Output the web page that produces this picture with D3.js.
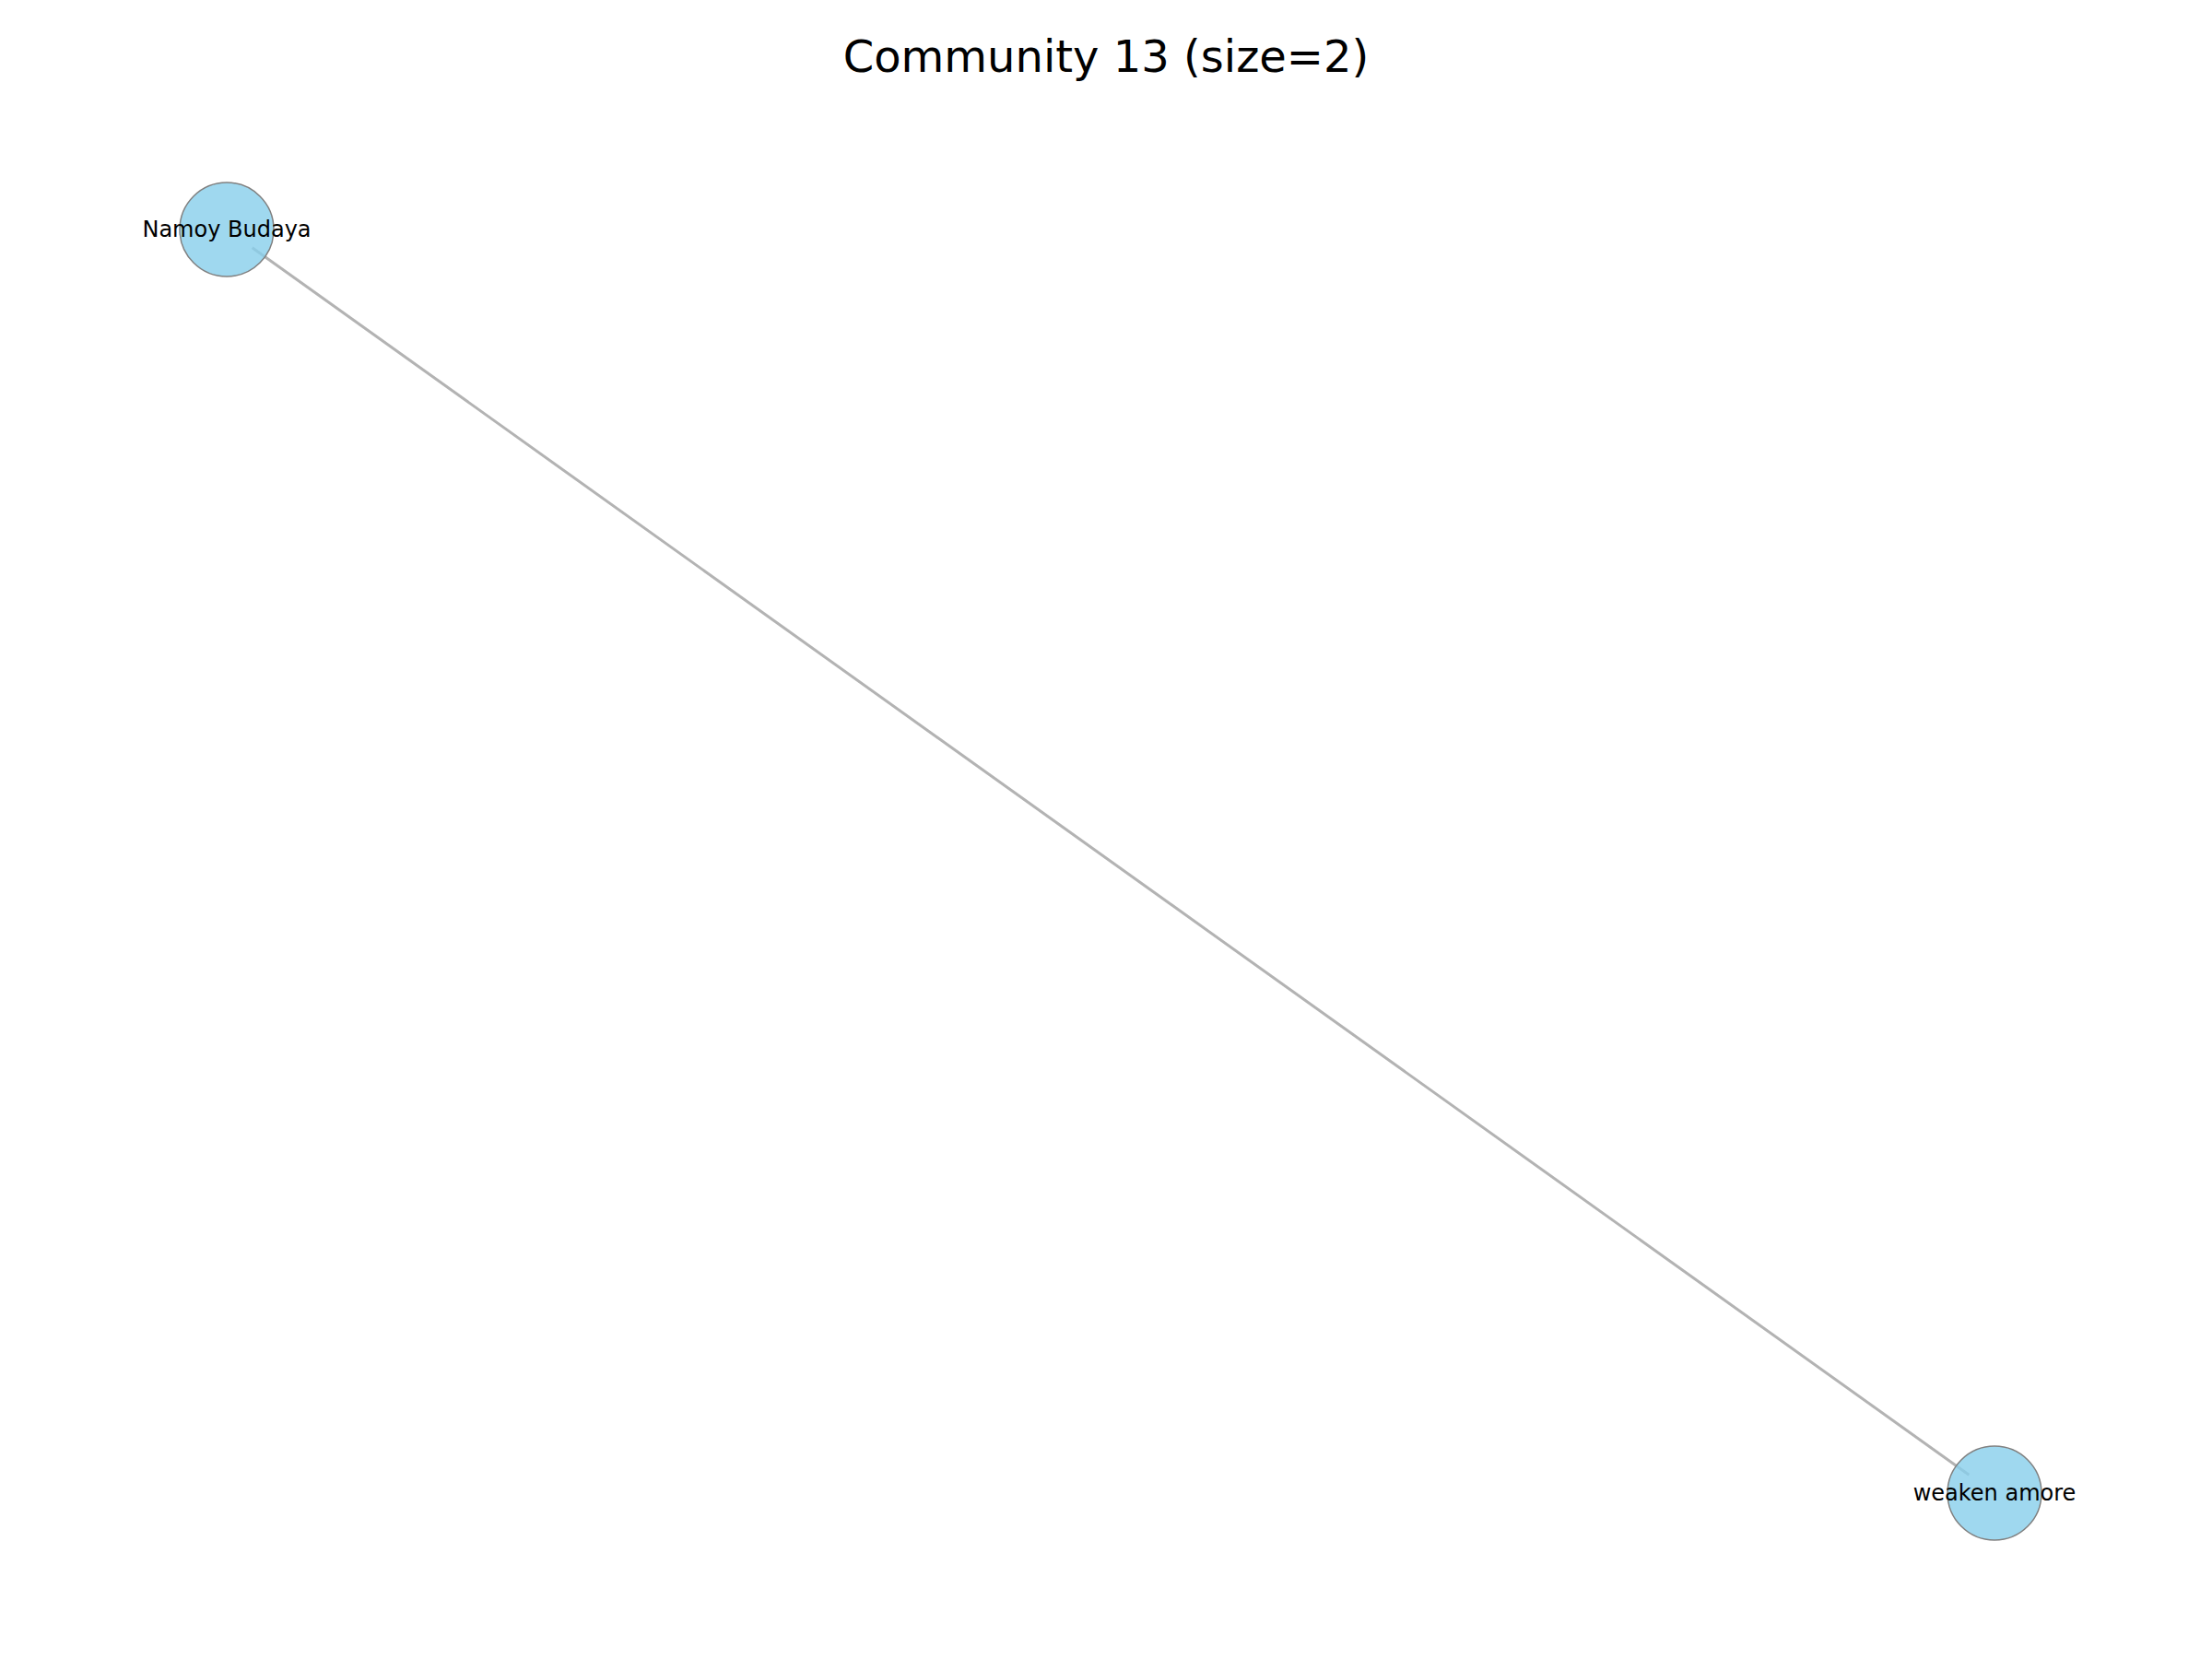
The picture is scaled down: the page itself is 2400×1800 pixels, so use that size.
<!DOCTYPE html>
<html>
<head>
<meta charset="utf-8">
<script src="https://cdn.jsdelivr.net/npm/d3@7"></script>
<style>
  body { margin: 0; background: #fff; }
  text { font-family: "DejaVu Sans", sans-serif; }
</style>
</head>
<body>
<script>
// node layout (spring layout units)
var nodeNames = ["Namoy Budaya", "weaken amore"];
var nodeX = [-1, 1];
var nodeY = [1, -1];
var edges = [[0, 1]];

var width = 2400, height = 1800;
var svg = d3.select("body").append("svg")
  .attr("width", width).attr("height", height);

var x = d3.scaleLinear().domain([-1, 1]).range([246, 2164]);
var y = d3.scaleLinear().domain([-1, 1]).range([1620, 249]);

svg.append("text")
  .attr("x", width / 2).attr("y", 78)
  .attr("text-anchor", "middle")
  .attr("font-size", 48)
  .text("Community 13 (size=2)");

var shrink = 34;
svg.selectAll("line.edge").data(edges).enter().append("line")
  .attr("class", "edge")
  .each(function (e) {
    var x1 = x(nodeX[e[0]]), y1 = y(nodeY[e[0]]);
    var x2 = x(nodeX[e[1]]), y2 = y(nodeY[e[1]]);
    var len = Math.hypot(x2 - x1, y2 - y1);
    var ux = (x2 - x1) / len, uy = (y2 - y1) / len;
    d3.select(this)
      .attr("x1", x1 + ux * shrink).attr("y1", y1 + uy * shrink)
      .attr("x2", x2 - ux * shrink).attr("y2", y2 - uy * shrink);
  })
  .attr("stroke", "#b3b3b3")
  .attr("stroke-width", 3);

svg.selectAll("circle.node").data(nodeNames).enter().append("circle")
  .attr("class", "node")
  .attr("cx", function (d, i) { return x(nodeX[i]); })
  .attr("cy", function (d, i) { return y(nodeY[i]); })
  .attr("r", 51)
  .attr("fill", "#87ceeb").attr("fill-opacity", 0.8)
  .attr("stroke", "#808080").attr("stroke-width", 1.5);

svg.selectAll("text.label").data(nodeNames).enter().append("text")
  .attr("class", "label")
  .attr("x", function (d, i) { return x(nodeX[i]); })
  .attr("y", function (d, i) { return y(nodeY[i]); })
  .attr("dy", "0.35em")
  .attr("text-anchor", "middle")
  .attr("font-size", 24)
  .text(function (d) { return d; });
</script>
</body>
</html>
